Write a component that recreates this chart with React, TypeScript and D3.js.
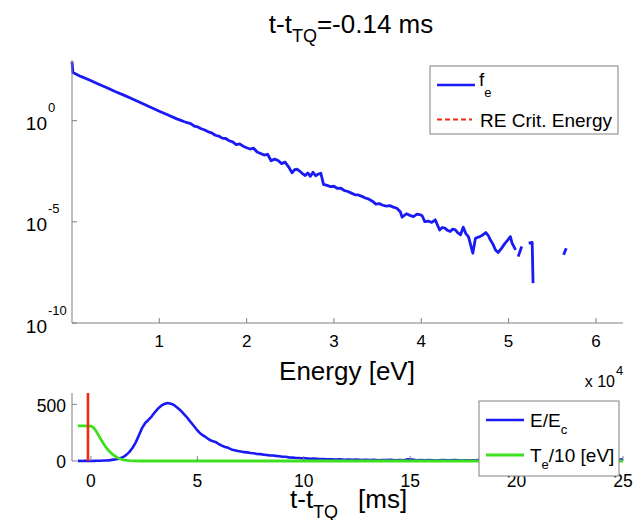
import React from "react";
import * as d3 from "d3";

// ---------- Top panel: electron distribution f_e vs energy ----------
const energyEv: number[] = [
  0, 110, 1000, 2000, 3000, 4000, 5000, 6000, 7000, 8000, 9000, 10000, 11000,
  12000, 12400, 12800, 13200, 13600, 14000, 14400, 14800, 15200, 15600, 16000, 16400,
  16800, 17200, 17600, 18000, 18400, 18800, 19200, 19600, 20000, 20400, 20800, 21200,
  21600, 22000, 22400, 22800, 23200, 23600, 24000, 24400, 24800, 25200, 25500, 25800,
  26100, 26400, 26700, 27000, 27300, 27600, 27900, 28200, 28500, 28800, 29200, 29600,
  30000, 30400, 30800, 31200, 31600, 32000, 32400, 32800, 33200, 33600, 34000, 34400,
  34800, 35200, 35600, 36000, 36400, 36800, 37200, 37600, 37800, 38300, 38700, 39100,
  39500, 39800, 40100, 40400, 40800, 41200, 41600, 42100, 42400, 42700, 43000, 43300,
  43600, 43900, 44200, 44500, 44800, 45100, 45400, 45900, 46200, 46700, 47000, 47400,
  47700, 47900, 48200, 48500, 48800, 49200, 49600, 49900, 50200, 50400, 50800,
  50950, 51100, 51500, 51900, 52300, 52700, 52800, 54000, 56300, 56600,
];
const log10Fe: (number | null)[] = [
  2.92, 2.38, 2.19, 2.01, 1.81, 1.63, 1.43, 1.25, 1.06, 0.86, 0.66, 0.47, 0.28,
  0.09, 0.03, -0.04, -0.1, -0.14, -0.27, -0.31, -0.4, -0.46, -0.55, -0.6, -0.72,
  -0.76, -0.86, -0.88, -0.99, -1.05, -1.18, -1.15, -1.26, -1.34, -1.4, -1.36, -1.55,
  -1.62, -1.7, -1.66, -1.98, -1.9, -1.97, -2.12, -2.05, -2.28, -2.58, -2.42, -2.4,
  -2.5, -2.62, -2.71, -2.58, -2.75, -2.55, -2.72, -2.64, -2.6, -3.15, -3.2, -3.26,
  -3.24, -3.35, -3.34, -3.46, -3.5, -3.58, -3.66, -3.67, -3.74, -3.82, -3.88, -3.98,
  -4.12, -4.1, -4.18, -4.22, -4.2, -4.27, -4.33, -4.5, -4.77, -4.6, -4.68, -4.74,
  -4.62, -4.64, -4.7, -4.99, -4.96, -5.03, -4.9, -5.4, -5.28, -5.31, -5.42, -5.48,
  -5.36, -5.4, -5.55, -5.64, -5.26, -5.58, -5.73, -6.55, -5.81, -5.73, -5.66, -5.53,
  -5.7, -5.89, -6.1, -6.39, -6.52, -6.3, -6.05, -5.9, -5.73, -6.05, -6.39,
  null, -6.72, -6.22, null, -6.05, -6.02, -8.03, null, -6.63, -6.3,
];
const energyTicks = [10000, 20000, 30000, 40000, 50000, 60000];
const energyTickLabels = ["1", "2", "3", "4", "5", "6"];
const feTickExponents = [0, -5, -10];
const topLegendLabels = ["f", "RE Crit. Energy"];

// ---------- Bottom panel: time traces ----------
const timeMs: number[] = [
  -0.62, -0.45, -0.3, -0.15, 0, 0.15, 0.3, 0.45, 0.6, 0.75, 0.9, 1.05, 1.2, 1.35, 1.5,
  1.65, 1.8, 1.95, 2.1, 2.25, 2.4, 2.55, 2.7, 2.85, 3.0, 3.15, 3.3, 3.45, 3.6, 3.75,
  3.9, 4.05, 4.2, 4.35, 4.5, 4.65, 4.8, 4.95, 5.1, 5.25, 5.4, 5.55, 5.7, 5.85, 6.0,
  6.15, 6.3, 6.45, 6.6, 6.75, 6.9, 7.05, 7.2, 7.35, 7.5, 7.65, 7.8, 7.95, 8.1, 8.25,
  8.4, 8.55, 8.7, 8.85, 9.0, 9.15, 9.3, 9.45, 9.6, 9.75, 9.9, 10.1, 10.3, 10.5, 10.7,
  10.9, 11.1, 11.3, 11.5, 11.7, 11.9, 12.1, 12.3, 12.5, 12.7, 12.9, 13.1, 13.3, 13.5, 13.7,
  13.9, 14.1, 14.3, 14.5, 14.7, 14.9, 15.1, 15.3, 15.5, 15.7, 15.9, 16.2, 16.5, 16.8, 17.1,
  17.4, 17.7, 18.0, 18.3, 18.6, 18.9, 19.2, 19.5, 19.8, 20.1, 20.4, 20.7, 21.0, 21.3, 21.6,
  21.9, 22.2, 22.5, 22.8, 23.1, 23.4, 23.7, 24.0, 24.3, 24.6, 24.9, 25.0,
];
const eOverEc: number[] = [
  1, 0, 2, 1, 0, 1, 2, 2, 4, 5, 8, 12, 16, 22, 33,
  52, 78, 115, 162, 225, 290, 335, 362, 392, 430, 462, 488, 503, 512, 506,
  494, 472, 448, 418, 388, 352, 318, 282, 250, 228, 210, 190, 176, 168, 150,
  136, 124, 116, 102, 95, 88, 84, 78, 76, 70, 68, 62, 61, 56, 53,
  50, 49, 45, 42, 38, 37, 32, 30, 28, 27, 24, 23, 20, 21, 17,
  18, 16, 15, 13, 15, 11, 12, 10, 13, 9, 10, 8, 11, 7, 9,
  8, 10, 6, 9, 7, 16, 12, 7, 9, 6, 8, 5, 8, 6, 9,
  5, 7, 6, 9, 5, 7, 6, 8, 5, 7, 6, 8, 5, 7, 6,
  8, 5, 7, 6, 8, 5, 7, 6, 8, 6, 12, 14,
];
const timeTe: number[] = [
  -0.62, -0.3, 0, 0.1, 0.2, 0.3, 0.4, 0.5, 0.6, 0.7, 0.8, 0.9, 1.0, 1.1, 1.2, 1.3, 1.4,
  1.5, 1.6, 1.8, 2.0, 2.4, 25,
];
const teOver10: number[] = [
  310, 310, 308, 298, 276, 246, 213, 181, 150, 123, 99, 79, 61, 47, 35, 25, 17,
  11, 7, 3, 1, 0, 0,
];
const tCurrent = -0.14;
const timeTicks = [0, 5, 10, 15, 20, 25];
const ratioTicks = [0, 500];

const BLUE = "#1a1af5";
const GREEN = "#3fe01f";
const RED = "#f02a10";
const AXIS = "#808080";
const FONT = "'Liberation Sans', Arial, Helvetica, sans-serif";

export default function App() {
  // top panel scales
  const xE = d3.scaleLinear().domain([0, 63100]).range([72, 623]);
  const yF = d3.scaleLog().domain([1e-10, 1e3]).range([323, 60]);
  const topPts = energyEv.map((e, i) => [e, log10Fe[i]] as [number, number | null]);
  const topLine = d3
    .line<[number, number | null]>()
    .defined((d) => d[1] !== null)
    .x((d) => xE(d[0]))
    .y((d) => yF(Math.pow(10, d[1] as number)));

  // bottom panel scales
  const xT = d3.scaleLinear().domain([-0.89, 25]).range([72, 623]);
  const yR = d3.scaleLinear().domain([0, 600]).range([461, 393]);
  const lineT = d3
    .line<[number, number]>()
    .x((d) => xT(d[0]))
    .y((d) => yR(d[1]));
  const bluePts = timeMs.map((t, i) => [t, eOverEc[i]] as [number, number]);
  const greenPts = timeTe.map((t, i) => [t, teOver10[i]] as [number, number]);

  const [x0, x1] = xE.range();
  const [yb, yt] = yF.range();
  const [bx0] = xT.range();
  const [bby, bty] = yR.range();

  return (
    <svg
      width={638}
      height={520}
      style={{ position: "absolute", left: 0, top: 0, background: "#fff" }}
      fontFamily={FONT}
    >
      <rect x={0} y={0} width={638} height={520} fill="#fff" />
      {/* Title */}
      <text x={351} y={33} textAnchor="middle" fontSize={26} fill="#000">
        t-t
        <tspan dy={9} fontSize={18}>TQ</tspan>
        <tspan dy={-9}>=-0.14 ms</tspan>
      </text>

      {/* ---------- Top panel ---------- */}
      <path d={topLine(topPts) || ""} fill="none" stroke={BLUE} strokeWidth={2.8} strokeLinejoin="round" />
      <line x1={x0} x2={x0} y1={yt} y2={yb} stroke={AXIS} strokeWidth={1} />
      <line x1={x0} x2={x1} y1={yb} y2={yb} stroke={AXIS} strokeWidth={1} />
      {energyTicks.map((v, i) => (
        <g key={"et" + v}>
          <line x1={xE(v)} x2={xE(v)} y1={yb} y2={yb - 5} stroke={AXIS} />
          <text x={xE(v)} y={347} textAnchor="middle" fontSize={17}>
            {energyTickLabels[i]}
          </text>
        </g>
      ))}
      {feTickExponents.map((p) => {
        const y = yF(Math.pow(10, p));
        return (
          <g key={"ft" + p}>
            <line x1={x0} x2={x0 + 5} y1={y} y2={y} stroke={AXIS} />
            <text x={47} y={y + 9.5} textAnchor="end" fontSize={19}>10</text>
            <text x={48} y={y - 8.5} textAnchor="start" fontSize={13}>{String(p)}</text>
          </g>
        );
      })}
      <text x={347} y={380} textAnchor="middle" fontSize={26}>Energy [eV]</text>
      <text x={615} y={387} textAnchor="end" fontSize={16}>x 10</text>
      <text x={616} y={375} fontSize={13}>4</text>

      {/* top legend */}
      <rect x={430} y={66} width={188} height={68} fill="#fff" stroke={AXIS} strokeWidth={1} />
      <line x1={437} x2={475} y1={85} y2={85} stroke={BLUE} strokeWidth={2.6} />
      <text x={479} y={86} fontSize={19}>
        {topLegendLabels[0]}
        <tspan dy={10.5} fontSize={13}>e</tspan>
      </text>
      <line x1={437} x2={472} y1={119.5} y2={119.5} stroke={RED} strokeWidth={2} strokeDasharray="5,3" />
      <text x={480} y={126.5} fontSize={19}>{topLegendLabels[1]}</text>

      {/* ---------- Bottom panel ---------- */}
      <path d={lineT(bluePts) || ""} fill="none" stroke={BLUE} strokeWidth={2.6} strokeLinejoin="round" />
      <path d={lineT(greenPts) || ""} fill="none" stroke={GREEN} strokeWidth={2.8} strokeLinejoin="round" />
      <line x1={xT(tCurrent)} x2={xT(tCurrent)} y1={yR(0)} y2={yR(600)} stroke={RED} strokeWidth={2.6} />
      <line x1={bx0} x2={bx0} y1={bty} y2={bby} stroke={AXIS} strokeWidth={1} />
      {ratioTicks.map((v) => (
        <g key={"rt" + v}>
          <line x1={bx0} x2={bx0 + 5} y1={yR(v)} y2={yR(v)} stroke={AXIS} />
          <text x={66} y={yR(v) + 7.2} textAnchor="end" fontSize={17.5}>{v}</text>
        </g>
      ))}
      {timeTicks.map((v) => (
        <g key={"tt" + v}>
          <line x1={xT(v)} x2={xT(v)} y1={bby} y2={bby - 5} stroke={AXIS} />
          <text x={xT(v)} y={487} textAnchor="middle" fontSize={17.5}>{v}</text>
        </g>
      ))}
      <text x={290} y={508} fontSize={26}>
        t-t
        <tspan dy={10} fontSize={18}>TQ</tspan>
        <tspan x={358} dy={-10}>[ms]</tspan>
      </text>

      {/* bottom legend */}
      <rect x={479} y={401} width={140} height={75} fill="#fff" stroke={AXIS} strokeWidth={1} />
      <line x1={486} x2={524} y1={420} y2={420} stroke={BLUE} strokeWidth={2.6} />
      <text x={530} y={427} fontSize={19}>
        E/E<tspan dy={7} fontSize={13}>c</tspan>
      </text>
      <line x1={486} x2={524} y1={455} y2={455} stroke={GREEN} strokeWidth={2.8} />
      <text x={530} y={462} fontSize={19}>
        T<tspan dy={7} fontSize={13}>e</tspan>
        <tspan dy={-7}>/10 [eV]</tspan>
      </text>
    </svg>
  );
}
